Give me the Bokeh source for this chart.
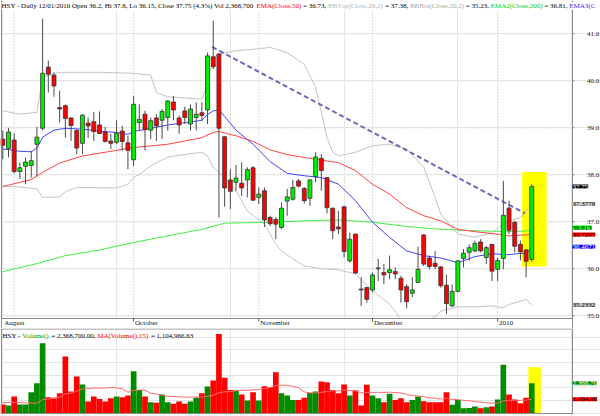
from bokeh.plotting import figure
from bokeh.layouts import column
from bokeh.models import ColumnDataSource, Range1d, Label, BoxAnnotation
from bokeh.embed import file_html
from bokeh.resources import INLINE

# HSY daily bars, 28 Aug 2009 - 12 Jan 2010 (bar index 0..93)
opens = [38.76, 38.56, 38.74, 38.07, 38.18, 38.20, 38.65, 38.99, 40.29, 40.12,
         39.43, 39.47, 39.21, 38.94, 38.67, 39.10, 39.13, 39.06, 38.91, 38.72,
         38.69, 38.93, 38.68, 38.32, 39.11, 39.29, 38.95, 39.21, 39.16, 39.22,
         39.55, 39.21, 39.36, 39.08, 39.22, 39.32, 39.38, 40.51, 40.57, 38.81,
         37.89, 37.84, 37.82, 37.89, 38.15, 37.52, 37.66, 37.09, 37.05, 36.88,
         37.44, 37.48, 37.87, 37.71, 37.50, 37.96, 38.35, 37.94, 37.29, 36.89,
         37.32, 36.17, 36.74, 35.57, 35.60, 35.55, 36.00, 35.92, 35.92, 35.94,
         35.80, 35.62, 35.48, 35.71, 36.72, 36.23, 36.12, 36.04, 35.65, 35.21,
         35.52, 36.22, 36.35, 36.38, 36.57, 36.24, 36.52, 35.99, 36.22, 37.29,
         36.99, 36.52, 36.40, 36.20]
highs = [38.94, 39.00, 38.88, 38.26, 38.37, 38.51, 39.02, 41.32, 40.43, 40.18,
         39.79, 39.50, 39.22, 38.97, 39.29, 39.22, 39.34, 39.35, 39.02, 38.87,
         39.16, 39.04, 38.83, 39.68, 39.50, 39.36, 39.22, 39.29, 39.40, 39.59,
         39.68, 39.26, 39.45, 39.50, 39.54, 39.54, 40.60, 41.28, 40.58, 38.83,
         38.12, 38.21, 38.26, 38.16, 38.19, 37.73, 37.73, 37.13, 37.10, 37.41,
         37.70, 37.89, 37.91, 37.74, 37.91, 38.48, 38.44, 37.95, 37.30, 37.23,
         37.34, 36.77, 36.74, 35.82, 35.62, 35.92, 36.21, 36.10, 36.28, 36.03,
         35.85, 35.67, 35.82, 36.47, 36.74, 36.28, 36.38, 36.06, 35.87, 35.67,
         36.18, 36.42, 36.52, 36.60, 36.63, 36.49, 36.52, 36.23, 37.87, 37.45,
         37.02, 36.60, 36.42, 37.80]
lows = [38.33, 38.37, 38.03, 37.91, 37.80, 37.94, 37.97, 38.94, 39.75, 39.66,
        39.11, 38.79, 38.72, 38.44, 38.44, 38.78, 38.72, 38.87, 38.69, 38.55,
        38.65, 38.51, 38.12, 38.18, 38.94, 38.52, 38.76, 38.72, 38.76, 38.94,
        39.16, 38.87, 39.08, 38.94, 38.94, 39.15, 39.08, 40.25, 37.09, 37.32,
        37.27, 37.66, 37.55, 37.52, 37.45, 37.38, 36.89, 36.91, 36.63, 36.84,
        37.13, 37.45, 37.73, 37.39, 37.34, 37.84, 37.66, 37.18, 36.63, 36.74,
        36.24, 36.13, 35.89, 35.21, 35.28, 35.50, 35.74, 35.67, 35.78, 35.78,
        35.28, 35.16, 35.40, 35.71, 36.06, 35.99, 35.99, 35.60, 35.04, 35.19,
        35.50, 36.03, 36.17, 36.35, 36.35, 36.10, 35.74, 35.74, 35.99, 36.74,
        36.35, 36.18, 35.82, 36.15]
closes = [38.63, 38.91, 38.07, 38.15, 38.27, 38.30, 38.80, 40.16, 40.14, 39.89,
          39.40, 39.20, 39.05, 38.57, 39.27, 39.04, 38.92, 38.88, 38.71, 38.67,
          38.89, 38.71, 38.52, 39.50, 39.18, 38.96, 39.15, 39.04, 39.35, 39.57,
          39.38, 39.06, 39.22, 39.40, 39.29, 39.26, 40.53, 40.30, 38.99, 37.72,
          37.65, 37.93, 37.72, 38.11, 37.46, 37.59, 37.04, 36.96, 36.95, 37.29,
          37.53, 37.73, 37.76, 37.45, 37.89, 38.38, 38.09, 37.30, 36.81, 36.85,
          36.37, 36.63, 35.91, 35.55, 35.35, 35.87, 36.02, 35.87, 35.98, 35.89,
          35.55, 35.30, 35.55, 35.99, 36.10, 36.05, 36.05, 35.64, 35.26, 35.52,
          36.17, 36.33, 36.45, 36.54, 36.38, 36.45, 35.95, 36.18, 37.14, 36.82,
          36.48, 36.36, 36.16, 37.75]
# shares traded, millions
volume_m = [0.68, 0.60, 1.32, 0.68, 0.68, 1.66, 2.37, 5.53, 1.26, 1.18,
            1.58, 4.47, 1.71, 2.89, 2.26, 0.92, 1.32, 1.13, 0.92, 1.18,
            1.32, 1.26, 1.39, 3.32, 1.84, 1.32, 0.87, 0.82, 1.47, 0.87,
            0.74, 0.92, 0.74, 0.92, 1.21, 1.58, 2.11, 2.58, 6.26, 2.79,
            1.84, 1.79, 1.47, 1.00, 1.66, 1.00, 2.13, 2.05, 3.24, 1.58,
            1.39, 1.05, 1.05, 1.21, 1.61, 1.71, 2.50, 2.45, 1.84, 1.58,
            2.26, 1.39, 1.79, 0.60, 2.24, 1.39, 1.18, 0.87, 1.53, 1.05,
            1.18, 0.87, 1.05, 1.32, 0.95, 0.87, 0.87, 0.87, 1.66, 0.66,
            1.05, 0.39, 0.42, 0.53, 0.39, 0.47, 0.53, 1.08, 3.82, 1.47,
            1.08, 0.79, 1.21, 2.3687]
# 15-day moving average of volume, millions
volume_ma_m = [0.85, 0.85, 0.85, 0.84, 0.82, 0.80, 0.79, 1.08, 1.12, 1.20,
               1.27, 1.52, 1.58, 1.74, 1.92, 1.94, 1.99, 1.98, 1.99, 2.03,
               2.00, 1.93, 1.65, 1.79, 1.83, 1.82, 1.58, 1.52, 1.42, 1.33,
               1.32, 1.29, 1.27, 1.27, 1.27, 1.28, 1.34, 1.42, 1.62, 1.68,
               1.71, 1.78, 1.82, 1.79, 1.84, 1.86, 1.94, 2.03, 2.18, 2.21,
               2.19, 2.12, 2.02, 1.68, 1.60, 1.60, 1.64, 1.71, 1.76, 1.76,
               1.84, 1.79, 1.78, 1.60, 1.64, 1.64, 1.65, 1.64, 1.66, 1.63,
               1.59, 1.48, 1.39, 1.35, 1.31, 1.22, 1.18, 1.12, 1.19, 1.09,
               1.07, 1.01, 0.98, 0.92, 0.87, 0.82, 0.80, 0.80, 0.97, 1.01,
               1.02, 1.01, 1.04, 1.105]

# indicator curves: (bar index, value)
ema20_bar = [0, 3, 5, 6, 7, 9, 11, 14, 17, 20, 22, 23, 26, 29, 32, 35, 36, 37,
             38, 39, 41, 44, 47, 50, 53, 56, 59, 62, 65, 68, 71, 74, 77, 80,
             83, 86, 89, 91, 92, 93]
ema20_val = [38.55, 38.50, 38.49, 38.57, 38.80, 38.95, 38.99, 38.97, 38.93,
             38.90, 38.86, 38.92, 38.99, 39.06, 39.11, 39.16, 39.28, 39.36,
             39.38, 39.24, 38.95, 38.65, 38.28, 38.03, 37.98, 37.94, 37.80,
             37.45, 36.99, 36.67, 36.38, 36.28, 36.23, 36.13, 36.26, 36.32,
             36.30, 36.33, 36.32, 36.47]
ema50_bar = [0, 3, 5, 7, 10, 14, 18, 23, 29, 35, 37, 38, 41, 44, 47, 50, 53,
             56, 59, 62, 65, 68, 71, 74, 77, 80, 83, 86, 89, 93]
ema50_val = [37.75, 37.84, 37.90, 38.05, 38.25, 38.40, 38.48, 38.58, 38.65,
             38.79, 38.90, 38.92, 38.83, 38.71, 38.53, 38.43, 38.37, 38.31,
             38.26, 38.09, 37.80, 37.59, 37.30, 37.13, 37.02, 36.84, 36.79,
             36.75, 36.70, 36.73]
ema200_bar = [0, 6, 11, 17, 23, 29, 35, 39, 47, 53, 59, 65, 71, 77, 83, 89, 93]
ema200_val = [35.94, 36.11, 36.28, 36.40, 36.56, 36.70, 36.84, 36.97, 36.99,
              37.02, 37.04, 36.99, 36.90, 36.84, 36.81, 36.79, 36.81]
bbtop_bar = [0, 3, 6, 7, 10, 17, 23, 26, 27, 29, 35, 36, 37, 38, 41, 44, 47,
             50, 53, 55, 57, 58, 59, 62, 65, 68, 71, 74, 76, 77, 80, 83, 86,
             88, 89, 91, 92, 93]
bbtop_val = [39.36, 39.29, 39.33, 40.08, 40.18, 40.18, 40.16, 40.12, 39.75,
             39.66, 39.61, 39.93, 40.50, 40.57, 40.64, 40.67, 40.71, 40.60,
             40.35, 39.86, 38.79, 38.48, 38.40, 38.48, 38.62, 38.65, 38.55,
             38.16, 37.52, 37.16, 36.74, 36.67, 36.77, 36.95, 37.02, 37.09,
             37.23, 37.38]
bbbot_bar = [0, 3, 6, 7, 10, 11, 13, 20, 22, 23, 24, 26, 29, 35, 36, 37, 39,
             41, 43, 46, 48, 49, 51, 53, 56, 59, 62, 65, 68, 70, 72, 74, 76,
             77, 80, 83, 86, 88, 89, 91, 92, 93]
bbbot_val = [37.76, 37.74, 37.70, 37.52, 37.53, 37.64, 37.73, 37.72, 37.80,
             37.94, 38.01, 38.19, 38.38, 38.48, 38.40, 38.16, 37.94, 37.66,
             37.23, 36.95, 36.52, 36.38, 36.21, 36.06, 36.00, 35.98, 35.89,
             35.53, 35.25, 34.93, 34.82, 34.85, 34.98, 35.10, 35.19, 35.19,
             35.21, 35.17, 35.24, 35.31, 35.35, 35.23]
# hand-drawn resistance line
trend_bar = [36.8, 91.8]
trend_val = [40.72, 37.18]

month_names = ["August", "October", "November", "December", "2010"]
month_label_bar = [0, 23, 45, 65, 87]
month_start_bar = [2, 23, 45, 65, 87]
month_tick_bar = [23, 45, 65, 87]
price_ticks = [35, 36, 37, 38, 39, 40, 41]

# ---------------------------------------------------------------------------
SERIF = "Liberation Serif"
FS_PX = 7.0
FS = "7px"
UP, DOWN = "#00ee00", "#ff0000"
VOL_UP, VOL_DOWN = "#008c00", "#ff0000"
FRAME = "#8c8c8c"
GRID = "#b8b8b8"

# canvas geometry (pixels): bar spacing, price scale, panel edges
BAR0_PX, BAR_PX = 2.3, 5.688
PRICE35_PX, PX_PER_DOLLAR = 315.3, 47.0
LEFT_PX, AXIS_PX, PRICE_BOTTOM_PX, ROW_BOTTOM_PX = 1, 572, 318, 328
VOL0_PX, PX_PER_MILLION, VOL_BOTTOM_PX = 84.7, 12.67, 85

# Times-metric advance widths (1/1000 em) used to chain coloured text runs
ADV = {' ': 250, '%': 833, '(': 333, ')': 333, ',': 250, '-': 333, '.': 250,
       '/': 278, '=': 564, 'A': 722, 'B': 667, 'C': 667, 'D': 722, 'E': 611,
       'H': 722, 'L': 611, 'M': 889, 'O': 722, 'S': 556, 'T': 611, 'V': 722,
       'Y': 722, 'a': 444, 'c': 444, 'e': 444, 'i': 278, 'l': 278, 'm': 778,
       'n': 500, 'o': 500, 'p': 500, 's': 389, 't': 278, 'u': 500, 'y': 500}


def text_w(s):
    return sum(ADV.get(ch, 500) for ch in s) * FS_PX / 1000.0


def bar_at(px):
    return (px - BAR0_PX) / BAR_PX


def price_at(py):
    return 35 + (PRICE35_PX - py) / PX_PER_DOLLAR


def vol_at(py):
    return (VOL0_PX - py) / PX_PER_MILLION * 1e6


def label(fig, x, y, text, color, **kw):
    fig.add_layout(Label(x=x, y=y, text=text, text_color=color,
                         text_font=SERIF, text_font_size=FS, **kw))


n = len(closes)
idx = list(range(n))
body_top = [max(o, c) for o, c in zip(opens, closes)]
body_bot = [min(o, c) for o, c in zip(opens, closes)]
candle_col = [UP if c >= o else DOWN for o, c in zip(opens, closes)]
vol_col = [VOL_UP if c >= o else VOL_DOWN for o, c in zip(opens, closes)]

src = ColumnDataSource(dict(x=idx, o=opens, h=highs, l=lows, c=closes,
                            top=body_top, bot=body_bot, col=candle_col,
                            vol=[v * 1e6 for v in volume_m],
                            vma=[v * 1e6 for v in volume_ma_m], vcol=vol_col))

x_range = Range1d(bar_at(0), bar_at(600))
xl, xr = bar_at(LEFT_PX), bar_at(AXIS_PX)

# ---------------- price panel ----------------
p = figure(width=600, height=328, x_range=x_range,
           y_range=Range1d(price_at(ROW_BOTTOM_PX), price_at(0)),
           output_backend="svg", toolbar_location=None,
           x_axis_location=None, y_axis_location=None, min_border=0)
p.outline_line_color = None
p.background_fill_color = "white"
p.border_fill_color = "white"

# dotted grid
ptop, pbot = price_at(0), price_at(PRICE_BOTTOM_PX)
p.segment(x0=[xl] * len(price_ticks), x1=[xr] * len(price_ticks),
          y0=price_ticks, y1=price_ticks, line_color=GRID, line_dash="1 2",
          level="underlay")
p.segment(x0=month_start_bar, x1=month_start_bar,
          y0=[pbot] * len(month_start_bar), y1=[ptop] * len(month_start_bar),
          line_color=GRID, line_dash="1 2", level="underlay")

# highlight of the last session
p.add_layout(BoxAnnotation(left=91.3, right=95.6, bottom=36.05, top=38.06,
                           fill_color="#ffff00", fill_alpha=1.0,
                           line_color=None, level="underlay"))

p.line(bbtop_bar, bbtop_val, line_color="#c4c4c4", line_width=1)
p.line(bbbot_bar, bbbot_val, line_color="#c4c4c4", line_width=1)
p.line(ema200_bar, ema200_val, line_color="#44ee44", line_width=1)
p.line(ema50_bar, ema50_val, line_color="#ff4444", line_width=1)
p.line(ema20_bar, ema20_val, line_color="#4444ff", line_width=1)
p.line(trend_bar, trend_val, line_color="#6a6ab8", line_width=2,
       line_dash="5 3")

p.segment(x0="x", y0="l", x1="x", y1="h", source=src,
          line_color="#4a4a4a", line_width=1)
p.vbar(x="x", width=0.7, top="top", bottom="bot", source=src,
       fill_color="col", line_color="#333333", line_width=0.8)

# date row below the panel, then panel edges and ticks
p.quad(left=[bar_at(0)], right=[bar_at(600)], bottom=[price_at(ROW_BOTTOM_PX)],
       top=[pbot], fill_color="white", line_color=None)
prow = price_at(ROW_BOTTOM_PX)
p.segment(x0=[xl, xr, xl], x1=[xl, xr, xr], y0=[prow, prow, pbot],
          y1=[ptop, ptop, pbot], line_color=FRAME, line_width=1)
p.segment(x0=month_tick_bar, x1=month_tick_bar,
          y0=[pbot] * len(month_tick_bar),
          y1=[price_at(PRICE_BOTTOM_PX + 3)] * len(month_tick_bar),
          line_color="#555555")
p.segment(x0=[xr] * len(price_ticks), x1=[bar_at(AXIS_PX + 2)] * len(price_ticks),
          y0=price_ticks, y1=price_ticks, line_color=FRAME)

# header run of coloured texts
header = [
    ("HSY - Daily 12/01/2010 Open 36.2, Hi 37.8, Lo 36.15, Close 37.75 "
     "(4.3%) Vol 2,368,700", "#000000"),
    ("EMA(Close,50)", "#ff0000"),
    ("= 36.73,", "#000000"),
    ("BBTop(Close,20,2)", "#b4b4b4"),
    ("= 37.38,", "#000000"),
    ("BBBot(Close,20,2)", "#a8a8a8"),
    ("= 35.23,", "#000000"),
    ("EMA2(Close,200)", "#00cc00"),
    ("= 36.81,", "#000000"),
    ("EMA3(C", "#3333ff"),
]
xpx = 1.0
for txt, colr in header:
    label(p, bar_at(xpx), price_at(5.6), txt, colr,
          text_baseline="alphabetic", text_align="left",
          background_fill_color="white")
    xpx += text_w(txt + " ")

# price axis labels
for t in price_ticks:
    label(p, bar_at(586.5), t, "%.1f" % t, "#222222",
          text_baseline="middle", text_align="left")

# month names
for b, name in zip(month_label_bar, month_names):
    label(p, b + 0.25, price_at(322.8), name, "#111111",
          text_baseline="middle", text_align="left")

# last-value tags on the price axis
tags = [
    (37.75, 0, "37.75", "#000000", "#ffffff"),
    (37.3778, 0, "37.3778", "#c8c8c8", "#000000"),
    (36.813, 3, "36.813", "#00ff00", "#000000"),
    (36.7297, 0, "36.7297", "#ff0000", "#000000"),
    (36.4671, 0, "36.4671", "#0000ff", "#ffffff"),
    (35.2332, 0, "35.2332", "#c0c0c0", "#000000"),
]
for yv, yoff, txt, bg, fg in tags:
    label(p, xr, yv, txt, fg, y_offset=yoff, text_baseline="middle",
          text_align="left", background_fill_color=bg)

# ---------------- volume panel ----------------
v = figure(width=600, height=88, x_range=x_range,
           y_range=Range1d(vol_at(88), vol_at(0)),
           output_backend="svg", toolbar_location=None,
           x_axis_location=None, y_axis_location=None, min_border=0)
v.outline_line_color = None
v.background_fill_color = "white"
v.border_fill_color = "white"

v.add_layout(BoxAnnotation(left=92.4, right=94.6, bottom=0, top=3.63e6,
                           fill_color="#ffff00", fill_alpha=1.0,
                           line_color=None, level="underlay"))
v.vbar(x="x", width=1.0, top="vol", bottom=0, source=src,
       fill_color="vcol", line_color=None)
v.line(x="x", y="vma", source=src, line_color="#ff6a6a", line_width=1)

vt, vb = vol_at(0.5), vol_at(VOL_BOTTOM_PX)
v.segment(x0=[xl, xr, xl, xl], x1=[xl, xr, xr, xr], y0=[vb, vb, vt, vb],
          y1=[vt, vt, vt, vb], line_color=FRAME, line_width=1)

vol_header = [
    ("HSY -", "#000000"),
    ("Volume()", "#00aa00"),
    ("= 2,368,700.00,", "#000000"),
    ("MA(Volume(),15)", "#ff0000"),
    ("= 1,104,966.63", "#000000"),
]
xpx = 2.0
for txt, colr in vol_header:
    label(v, bar_at(xpx), vol_at(7.2), txt, colr,
          text_baseline="alphabetic", text_align="left")
    xpx += text_w(txt + " ")

vtags = [
    (volume_m[-1] * 1e6, "2,368,70", "#008c00", "#ffffff"),
    (volume_ma_m[-1] * 1e6, "1,104,96", "#ff0000", "#000000"),
]
for yv, txt, bg, fg in vtags:
    label(v, xr, yv, txt, fg, text_baseline="middle", text_align="left",
          background_fill_color=bg)

layout = column(p, v, spacing=0)
open("out.html", "w").write(file_html(layout, INLINE))
